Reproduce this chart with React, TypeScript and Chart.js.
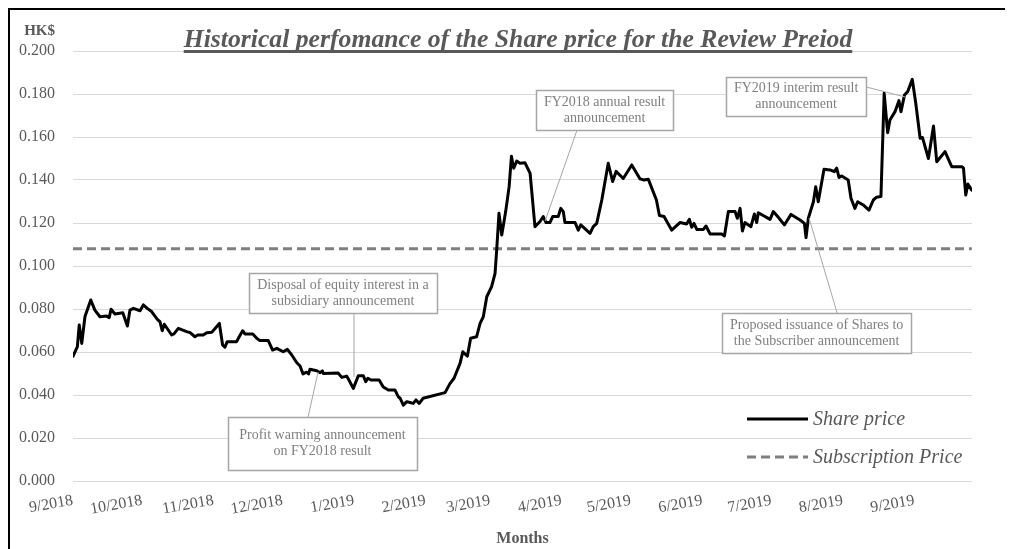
import React, { useEffect, useRef } from "react";
import { Chart, registerables } from "chart.js";
Chart.register(...registerables);

// x axis: calendar days counted from 1 Sep 2018
const monthDays = [0, 30, 61, 91, 122, 153, 181, 212, 242, 273, 303, 334, 365];
const monthLabels = ["9/2018", "10/2018", "11/2018", "12/2018", "1/2019", "2/2019", "3/2019", "4/2019", "5/2019", "6/2019", "7/2019", "8/2019", "9/2019"];
const yTickValues = [0, 0.02, 0.04, 0.06, 0.08, 0.1, 0.12, 0.14, 0.16, 0.18, 0.2];

const tradeDays = [
  0, 1.9, 2.7, 3.8, 5.2, 7.7, 9.5, 11.7, 14.6, 15.7, 16.5, 18.2, 21.6, 23.6, 24.7, 26.2, 29.1, 30.5, 32.2, 34.1,
  36.6, 37.7, 38.7, 39.6, 42.8, 43.8, 45.7, 49.3, 50.8, 52.9, 54.1, 56.5, 58.0, 60.2, 63.5, 64.9, 65.9, 66.9, 71.0, 72.1,
  73.6, 74.6, 78.0, 79.7, 81.1, 84.7, 86.6, 88.4, 91.2, 93.0, 94.9, 97.1, 98.5, 99.8, 101.3, 102.2, 102.8, 105.7, 107.2, 108.2,
  108.6, 115.0, 116.6, 118.7, 119.7, 121.6, 123.8, 125.9, 127.0, 127.9, 129.3, 132.8, 134.6, 136.8, 139.7, 141.1, 141.9, 143.3, 144.8, 146.2,
  147.6, 148.8, 150.2, 151.9, 161.4, 163.6, 165.3, 167.9, 169.1, 171.1, 172.5, 175.1, 176.6, 178.0, 179.5, 181.6, 183.1, 183.8, 184.8, 186.0,
  187.7, 189.2, 190.2, 191.2, 192.5, 193.9, 196.1, 198.3, 200.4, 202.6, 204.0, 205.2, 206.9, 208.1, 210.5, 211.6, 212.7, 213.4, 217.8, 219.2,
  220.3, 224.3, 225.7, 227.2, 229.4, 232.2, 234.1, 235.6, 238.7, 242.4, 246.0, 247.7, 249.6, 253.1, 254.4, 256.4, 259.7, 263.3, 266.2, 267.4,
  268.4, 269.4, 270.6, 273.5, 274.6, 276.4, 281.4, 282.6, 284.3, 287.2, 288.2, 289.4, 290.4, 291.5, 294.1, 295.6, 296.6, 297.3, 302.4, 303.8,
  305.7, 308.6, 311.5, 315.4, 317.3, 318.0, 319.0, 321.2, 322.2, 323.3, 325.8, 328.4, 330.3, 331.3, 332.3, 333.5, 336.3, 337.5, 339.2, 340.4,
  342.8, 345.3, 347.2, 348.6, 350.5, 351.9, 353.4, 354.4, 356.6, 358.3, 359.2, 360.7, 362.1, 364.1, 365.6, 367.5, 368.5, 371.1, 373.3, 374.7,
  378.3, 381.2, 385.6, 386.3, 387.3, 388.2, 389.9,
];
const sharePrices = [
  0.058, 0.0625, 0.0726, 0.064, 0.0765, 0.0842, 0.0795, 0.0764, 0.0767, 0.076, 0.0799, 0.0777, 0.0783, 0.0721, 0.0795, 0.0803, 0.0792, 0.0819, 0.0803, 0.0788,
  0.0752, 0.0741, 0.0699, 0.0729, 0.0679, 0.0684, 0.071, 0.0695, 0.069, 0.0671, 0.0679, 0.0679, 0.069, 0.0692, 0.0733, 0.0633, 0.0622, 0.0648, 0.0648, 0.0671,
  0.0699, 0.0684, 0.0684, 0.0664, 0.0653, 0.0653, 0.0609, 0.0617, 0.0601, 0.0612, 0.0586, 0.055, 0.0535, 0.0498, 0.0506, 0.0498, 0.052, 0.0513, 0.0504, 0.0512,
  0.05, 0.0502, 0.0482, 0.0488, 0.047, 0.0431, 0.049, 0.049, 0.0462, 0.0478, 0.047, 0.047, 0.0437, 0.0423, 0.0423, 0.0392, 0.0385, 0.0353, 0.0369, 0.0365,
  0.0361, 0.0377, 0.0361, 0.0385, 0.0411, 0.0454, 0.0478, 0.0547, 0.0601, 0.0581, 0.0664, 0.0671, 0.0733, 0.0764, 0.0857, 0.0904, 0.0966, 0.1074, 0.1245, 0.1144,
  0.1253, 0.1369, 0.151, 0.1455, 0.1488, 0.1478, 0.148, 0.1431, 0.1183, 0.1207, 0.123, 0.1202, 0.1202, 0.123, 0.123, 0.1268, 0.1253, 0.1202, 0.1202, 0.1167,
  0.1191, 0.1152, 0.1183, 0.1198, 0.1307, 0.1478, 0.1393, 0.144, 0.1407, 0.147, 0.1405, 0.14, 0.1403, 0.1307, 0.1235, 0.123, 0.1167, 0.1202, 0.1195, 0.1217,
  0.118, 0.1198, 0.117, 0.117, 0.1186, 0.1149, 0.1149, 0.114, 0.1253, 0.1253, 0.1222, 0.1268, 0.1163, 0.1202, 0.1183, 0.1242, 0.1202, 0.1248, 0.1217, 0.1253,
  0.123, 0.1191, 0.124, 0.1214, 0.1198, 0.1132, 0.1222, 0.1299, 0.1369, 0.1299, 0.145, 0.1447, 0.1439, 0.1455, 0.1412, 0.1419, 0.14, 0.1315, 0.1268, 0.1299,
  0.1284, 0.126, 0.1307, 0.132, 0.1323, 0.1803, 0.162, 0.1679, 0.1718, 0.1769, 0.1718, 0.1795, 0.1811, 0.1868, 0.1757, 0.1594, 0.1598, 0.15, 0.1651, 0.1485,
  0.1532, 0.1462, 0.1462, 0.1455, 0.133, 0.1381, 0.1353,
];

const subscriptionDays = [0, 389.9];
const subscriptionPrices = [0.108, 0.108];

const chartTitle = "Historical perfomance of the Share price for the Review Preiod";
const unitLabel = "HK$";
const xAxisTitle = "Months";
const seriesNames = ["Share price", "Subscription Price"];

// annotation callouts (anchors in data units: [day, price])
const annotations = [
  { lines: ["Disposal of equity interest in a", "subsidiary announcement"], center: [117.1, 0.0874], w: 188, h: 40, from: [121.9, 0.0781], to: [121.9, 0.0484] },
  { lines: ["Profit warning announcement", "on FY2018 result"], center: [108.2, 0.0174], w: 189, h: 53, from: [102.0, 0.0298], to: [106.3, 0.0507] },
  { lines: ["FY2018 annual result", "announcement"], center: [230.6, 0.1726], w: 137, h: 40, from: [218.7, 0.1633], to: [204.8, 0.1209] },
  { lines: ["FY2019 interim result", "announcement"], center: [313.7, 0.1788], w: 140, h: 39, from: [344.0, 0.1833], to: [361.0, 0.1786] },
  { lines: ["Proposed issuance of Shares to", "the Subscriber announcement"], center: [322.6, 0.0688], w: 189, h: 40, from: [331.5, 0.0781], to: [319.3, 0.1223] },
];

const SERIF = '"Liberation Serif", "Times New Roman", serif';
const TEXT = "#595959";

const overlayPlugin = {
  id: "overlay",
  afterDraw(chart: any) {
    const { ctx, chartArea, scales } = chart;
    const x = scales.x;
    const y = scales.y;
    ctx.save();
    // callouts
    for (const a of annotations) {
      const cx = x.getPixelForValue(a.center[0]);
      const cy = y.getPixelForValue(a.center[1]);
      ctx.strokeStyle = "#a6a6a6";
      ctx.lineWidth = 1;
      ctx.beginPath();
      ctx.moveTo(x.getPixelForValue(a.from[0]), y.getPixelForValue(a.from[1]));
      ctx.lineTo(x.getPixelForValue(a.to[0]), y.getPixelForValue(a.to[1]));
      ctx.stroke();
      ctx.fillStyle = "#ffffff";
      ctx.fillRect(cx - a.w / 2, cy - a.h / 2, a.w, a.h);
      ctx.lineWidth = 1.5;
      ctx.strokeRect(Math.round(cx - a.w / 2) + 0.5, Math.round(cy - a.h / 2) + 0.5, a.w, a.h);
      ctx.fillStyle = "#7f7f7f";
      ctx.font = `14px ${SERIF}`;
      ctx.textAlign = "center";
      ctx.textBaseline = "middle";
      a.lines.forEach((t, i) => {
        ctx.fillText(t, cx, cy + (i - (a.lines.length - 1) / 2) * 16);
      });
    }
    // legend
    const ds = chart.data.datasets;
    const lx0 = chartArea.right - 225;
    const lx1 = chartArea.right - 164;
    const rows = [chartArea.bottom - 62, chartArea.bottom - 24];
    ds.forEach((d: any, i: number) => {
      ctx.strokeStyle = d.borderColor;
      ctx.lineWidth = d.borderWidth;
      ctx.setLineDash(d.borderDash || []);
      ctx.beginPath();
      ctx.moveTo(lx0, rows[i]);
      ctx.lineTo(lx1, rows[i]);
      ctx.stroke();
      ctx.setLineDash([]);
      ctx.fillStyle = TEXT;
      ctx.font = `italic 20px ${SERIF}`;
      ctx.textAlign = "left";
      ctx.textBaseline = "middle";
      ctx.fillText(seriesNames[i], lx1 + 5, rows[i] + 1);
    });
    // title
    ctx.font = `italic bold 25.7px ${SERIF}`;
    ctx.fillStyle = TEXT;
    ctx.textAlign = "center";
    ctx.textBaseline = "alphabetic";
    const tcx = (chartArea.left + chartArea.right) / 2 - 4.5;
    const tw = ctx.measureText(chartTitle).width;
    ctx.fillText(chartTitle, tcx, chartArea.top - 4.5);
    ctx.fillRect(tcx - tw / 2, chartArea.top - 1, tw, 3);
    // unit label
    ctx.font = `bold 15px ${SERIF}`;
    ctx.textAlign = "right";
    ctx.textBaseline = "middle";
    ctx.fillText(unitLabel, chartArea.left - 18, chartArea.top - 20);
    ctx.restore();
  },
};

export default function App() {
  const ref = useRef<HTMLCanvasElement>(null);
  useEffect(() => {
    document.body.style.overflow = "hidden";
    const chart = new Chart(ref.current as HTMLCanvasElement, {
      type: "line",
      data: {
        datasets: [
          {
            label: seriesNames[0],
            data: tradeDays.map((d, i) => ({ x: d, y: sharePrices[i] })),
            borderColor: "#000000",
            borderWidth: 3,
            pointRadius: 0,
            tension: 0,
            borderJoinStyle: "round",
            borderCapStyle: "round",
          },
          {
            label: seriesNames[1],
            data: subscriptionDays.map((d, i) => ({ x: d, y: subscriptionPrices[i] })),
            borderColor: "#7f7f7f",
            borderWidth: 3,
            borderDash: [9, 5],
            pointRadius: 0,
            tension: 0,
          },
        ],
      },
      options: {
        responsive: false,
        devicePixelRatio: 1,
        animation: false,
        layout: { padding: { top: 41, right: 41, left: 0, bottom: 0 } },
        plugins: { legend: { display: false }, tooltip: { enabled: false }, title: { display: false } },
        scales: {
          x: {
            type: "linear",
            min: 0,
            max: 390,
            grid: { display: false, drawTicks: false },
            border: { display: false },
            afterBuildTicks: (s: any) => {
              s.ticks = monthDays.map((v) => ({ value: v }));
            },
            afterFit: (s: any) => {
              s.height = 68;
            },
            ticks: {
              autoSkip: false,
              minRotation: 10,
              maxRotation: 10,
              padding: 10,
              color: TEXT,
              font: { family: SERIF, size: 16 },
              callback: (v: any) => {
                const i = monthDays.indexOf(Number(v));
                return i >= 0 ? monthLabels[i] : "";
              },
            },
            title: {
              display: true,
              text: xAxisTitle,
              color: TEXT,
              font: { family: SERIF, size: 16, weight: "bold" },
              padding: { top: 0, bottom: 1 },
            },
          },
          y: {
            type: "linear",
            min: 0,
            max: 0.2,
            grid: { color: "#d9d9d9", lineWidth: 1, drawTicks: false },
            border: { display: false },
            afterBuildTicks: (s: any) => {
              s.ticks = yTickValues.map((v) => ({ value: v }));
            },
            afterFit: (s: any) => {
              s.width = 63;
            },
            ticks: {
              padding: 18,
              color: TEXT,
              font: { family: SERIF, size: 16 },
              callback: (v: any) => Number(v).toFixed(3),
            },
          },
        },
      } as any,
      plugins: [overlayPlugin],
    });
    return () => chart.destroy();
  }, []);
  return (
    <div
      style={{
        position: "relative",
        width: 1005,
        height: 541,
        borderLeft: "2px solid #000",
        borderTop: "2px solid #000",
        boxSizing: "border-box",
        background: "#fff",
      }}
    >
      <canvas ref={ref} width={1003} height={539} style={{ display: "block", width: 1003, height: 539 }} />
    </div>
  );
}
